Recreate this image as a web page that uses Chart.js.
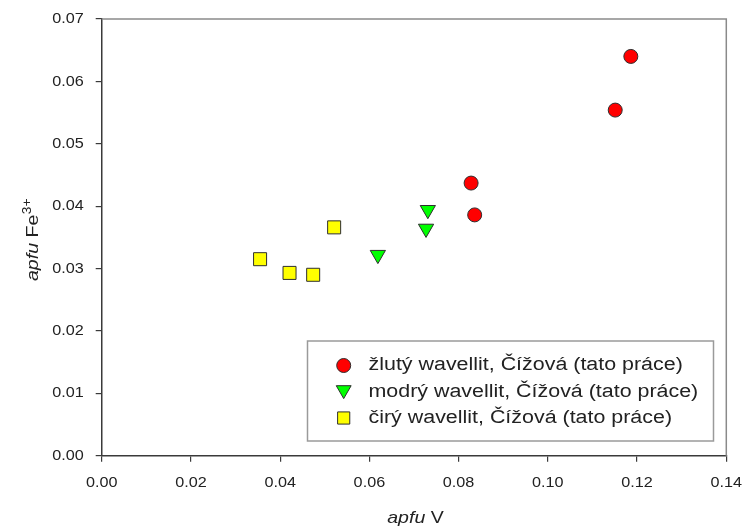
<!DOCTYPE html>
<html>
<head>
<meta charset="utf-8">
<script src="https://cdn.jsdelivr.net/npm/chart.js@4.4.1/dist/chart.umd.min.js"></script>
<style>
  html, body { margin: 0; padding: 0; background: #ffffff; }
  #wrap { width: 744px; height: 527px; }
</style>
</head>
<body>
<div id="wrap"><canvas id="c" width="744" height="527"></canvas></div>
<script>
// Wavellite from Čížová: V vs Fe3+ contents (apfu)
const seriesNames = [
  'žlutý wavellit, Čížová (tato práce)',
  'modrý wavellit, Čížová (tato práce)',
  'čirý wavellit, Čížová (tato práce)'
];

const yellowV  = [0.0828, 0.0836, 0.1151, 0.1186];
const yellowFe = [0.0437, 0.0386, 0.0554, 0.0640];

const blueV  = [0.0619, 0.0727, 0.0731];
const blueFe = [0.0322, 0.0364, 0.0394];

const clearV  = [0.0355, 0.0421, 0.0474, 0.0521];
const clearFe = [0.0315, 0.0293, 0.0290, 0.0366];

const xTicks = [0.00, 0.02, 0.04, 0.06, 0.08, 0.10, 0.12, 0.14];
const yTicks = [0.00, 0.01, 0.02, 0.03, 0.04, 0.05, 0.06, 0.07];

const toPoints = (xs, ys) => xs.map((x, i) => ({ x: x, y: ys[i] }));

const FONT = "'Liberation Sans', Arial, Helvetica, sans-serif";
const TEXT = '#222222';
const AXIS = '#3a3a3a';
const FRAME = '#8a8a8a';
const TICK_STRETCH = 1.08;

// draw text slightly widened horizontally around its anchor
function wideText(ctx, str, x, y, sx) {
  ctx.save();
  ctx.translate(x, y);
  ctx.scale(sx, 1);
  ctx.fillText(str, 0, 0);
  ctx.restore();
}

// widen tick labels the library draws
const tickStretch = {
  id: 'tickStretch',
  beforeDraw(chart) {
    const ctx = chart.ctx;
    const orig = ctx.fillText;
    chart.$origFillText = orig;
    ctx.fillText = function (str, x, y, maxWidth) {
      this.save();
      this.translate(x, y);
      this.scale(TICK_STRETCH, 1);
      orig.call(this, str, 0, 0);
      this.restore();
    };
  },
  afterDraw(chart) {
    if (chart.$origFillText) {
      delete chart.ctx.fillText;
      chart.ctx.fillText = chart.$origFillText;
      chart.$origFillText = null;
    }
  }
};

// top/right frame, axis titles and the boxed legend
const decorations = {
  id: 'decorations',
  afterDraw(chart) {
    const ctx = chart.ctx;
    const a = chart.chartArea;
    ctx.save();

    // frame
    ctx.strokeStyle = FRAME;
    ctx.lineWidth = 1.5;
    ctx.beginPath();
    ctx.moveTo(a.left, a.top);
    ctx.lineTo(a.right, a.top);
    ctx.lineTo(a.right, a.bottom);
    ctx.stroke();

    ctx.fillStyle = TEXT;
    ctx.textBaseline = 'alphabetic';
    ctx.textAlign = 'left';

    // x title: "apfu V"
    const tsx = 1.15;
    ctx.font = 'italic 17px ' + FONT;
    const w1 = ctx.measureText('apfu').width * tsx;
    ctx.font = '17px ' + FONT;
    const w2 = ctx.measureText(' V').width * tsx;
    const sx = 415.5 - (w1 + w2) / 2;
    ctx.font = 'italic 17px ' + FONT;
    wideText(ctx, 'apfu', sx, 523, tsx);
    ctx.font = '17px ' + FONT;
    wideText(ctx, ' V', sx + w1, 523, tsx);

    // y title: "apfu Fe3+"
    ctx.save();
    ctx.translate(38, 240);
    ctx.rotate(-Math.PI / 2);
    ctx.font = 'italic 17px ' + FONT;
    const v1 = ctx.measureText('apfu').width * tsx;
    ctx.font = '17px ' + FONT;
    const v2 = ctx.measureText(' Fe').width * tsx;
    ctx.font = '12px ' + FONT;
    const v3 = ctx.measureText('3+').width * tsx;
    const p = -(v1 + v2 + v3) / 2;
    ctx.font = 'italic 17px ' + FONT;
    wideText(ctx, 'apfu', p, 0, tsx);
    ctx.font = '17px ' + FONT;
    wideText(ctx, ' Fe', p + v1, 0, tsx);
    ctx.font = '12px ' + FONT;
    wideText(ctx, '3+', p + v1 + v2 + 0.5, -7.5, tsx);
    ctx.restore();

    // legend box
    const box = { l: 307.5, t: 341, r: 713.5, b: 441 };
    ctx.fillStyle = '#ffffff';
    ctx.fillRect(box.l, box.t, box.r - box.l, box.b - box.t);
    ctx.strokeStyle = '#9a9a9a';
    ctx.lineWidth = 1.5;
    ctx.strokeRect(box.l, box.t, box.r - box.l, box.b - box.t);

    const rows = [365.5, 392, 418];
    const legendSizes = [7, 8.6, 8.6];
    chart.data.datasets.forEach((ds, i) => {
      const y = rows[i];
      ctx.fillStyle = ds.backgroundColor;
      ctx.strokeStyle = ds.borderColor;
      ctx.lineWidth = ds.borderWidth;
      const yy = ds.pointStyle === 'triangle' ? y - 2 : y;
      Chart.helpers.drawPoint(ctx, {
        pointStyle: ds.pointStyle,
        rotation: ds.rotation || 0,
        radius: legendSizes[i],
        borderWidth: ds.borderWidth
      }, 343.7, yy);
      ctx.fillStyle = TEXT;
      ctx.font = '18px ' + FONT;
      ctx.textAlign = 'left';
      ctx.textBaseline = 'middle';
      wideText(ctx, ds.label, 368.5, y, 1.19);
    });

    ctx.restore();
  }
};

const tickFont = { family: FONT, size: 15 };

new Chart(document.getElementById('c'), {
  type: 'scatter',
  data: {
    datasets: [
      {
        label: seriesNames[0],
        data: toPoints(yellowV, yellowFe),
        pointStyle: 'circle',
        pointRadius: 7,
        backgroundColor: '#ff0000',
        borderColor: '#2e2e2e',
        borderWidth: 1
      },
      {
        label: seriesNames[1],
        data: toPoints(blueV, blueFe),
        pointStyle: 'triangle',
        rotation: 180,
        pointRotation: 180,
        pointRadius: 8.8,
        backgroundColor: '#00ff00',
        borderColor: '#2e2e2e',
        borderWidth: 1
      },
      {
        label: seriesNames[2],
        data: toPoints(clearV, clearFe),
        pointStyle: 'rect',
        pointRadius: 9.2,
        backgroundColor: '#ffff00',
        borderColor: '#2e2e2e',
        borderWidth: 1
      }
    ]
  },
  options: {
    responsive: false,
    animation: false,
    events: [],
    layout: { padding: { top: 19, right: 17.7, left: 0, bottom: 0 } },
    plugins: {
      legend: { display: false },
      tooltip: { enabled: false }
    },
    scales: {
      x: {
        type: 'linear',
        min: xTicks[0],
        max: xTicks[xTicks.length - 1],
        afterBuildTicks(s) { s.ticks = xTicks.map(v => ({ value: v })); },
        afterFit(s) { s.height = 71.3; s.paddingLeft = 0; s.paddingRight = 0; },
        ticks: {
          font: tickFont,
          color: TEXT,
          padding: 12,
          maxRotation: 0,
          autoSkip: false,
          callback: v => Number(v).toFixed(2)
        },
        grid: { drawOnChartArea: false, drawTicks: true, tickLength: 6, color: AXIS, lineWidth: 1.2 },
        border: { display: true, color: AXIS, width: 1.5 }
      },
      y: {
        type: 'linear',
        min: yTicks[0],
        max: yTicks[yTicks.length - 1],
        afterBuildTicks(s) { s.ticks = yTicks.map(v => ({ value: v })); },
        afterFit(s) { s.width = 101.7; s.paddingTop = 0; s.paddingBottom = 0; },
        ticks: {
          font: tickFont,
          color: TEXT,
          padding: 12,
          autoSkip: false,
          callback: v => Number(v).toFixed(2)
        },
        grid: { drawOnChartArea: false, drawTicks: true, tickLength: 6, color: AXIS, lineWidth: 1.2 },
        border: { display: true, color: AXIS, width: 1.5 }
      }
    }
  },
  plugins: [tickStretch, decorations]
});
</script>
</body>
</html>
